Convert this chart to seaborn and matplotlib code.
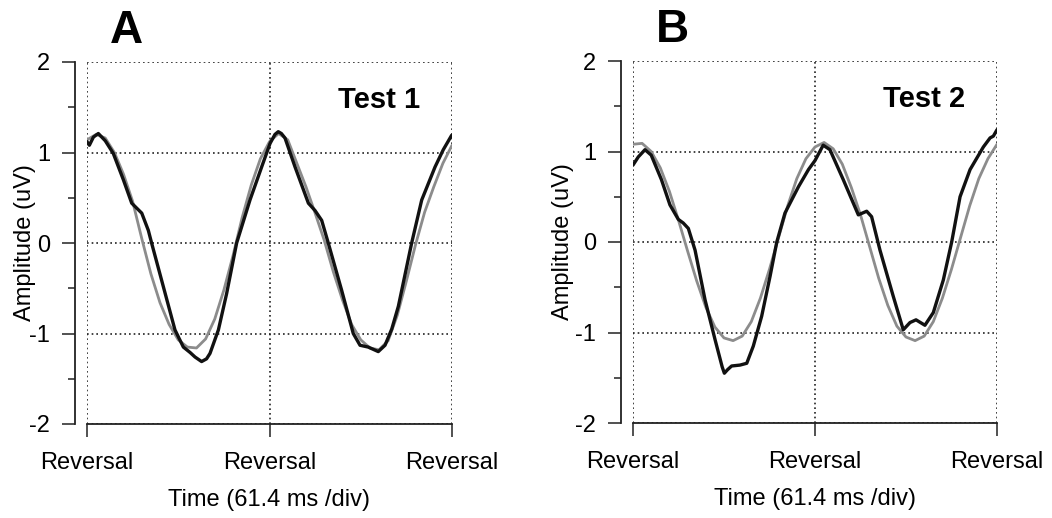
import numpy as np
import matplotlib
matplotlib.use("Agg")
import matplotlib.pyplot as plt
import seaborn as sns

# ---- data (x in divisions, y in uV) ----
# Panel A / Test 1
gray_a_x = [0.00, 0.05, 0.10, 0.15, 0.20, 0.25, 0.30, 0.35, 0.40, 0.45, 0.50,
            0.55, 0.60, 0.65, 0.70, 0.75, 0.80, 0.85, 0.90, 0.95, 1.00,
            1.05, 1.10, 1.15, 1.20, 1.25, 1.30, 1.35, 1.40, 1.45, 1.50,
            1.55, 1.60, 1.65, 1.70, 1.75, 1.80, 1.85, 1.90, 1.95, 2.00]
gray_a_y = [1.14, 1.20, 1.16, 1.00, 0.76, 0.46, 0.05, -0.34, -0.66, -0.90, -1.07,
            -1.15, -1.16, -1.06, -0.84, -0.52, -0.14, 0.28, 0.64, 0.93, 1.12,
            1.21, 1.14, 0.88, 0.62, 0.33, 0.03, -0.32, -0.63, -0.90, -1.07,
            -1.16, -1.18, -1.08, -0.80, -0.42, -0.02, 0.34, 0.62, 0.88, 1.08]

black_a_x = [0.0, 0.013, 0.035, 0.062, 0.10, 0.144, 0.199, 0.245, 0.265, 0.30,
             0.336, 0.354, 0.418, 0.482, 0.528, 0.565, 0.592, 0.628, 0.655, 0.674,
             0.72, 0.765, 0.82, 0.893, 0.957, 1.003, 1.03, 1.048, 1.065, 1.085,
             1.14, 1.213, 1.249, 1.286, 1.322, 1.395, 1.459, 1.496, 1.541, 1.596,
             1.633, 1.67, 1.706, 1.779, 1.834, 1.907, 1.952, 1.998]
black_a_y = [1.12, 1.08, 1.17, 1.21, 1.13, 0.99, 0.70, 0.44, 0.40, 0.33,
             0.14, 0.0, -0.48, -0.96, -1.15, -1.21, -1.26, -1.31, -1.28, -1.22,
             -0.96, -0.56, 0.0, 0.475, 0.84, 1.10, 1.20, 1.23, 1.21, 1.16,
             0.84, 0.44, 0.36, 0.25, 0.0, -0.52, -1.0, -1.13, -1.15, -1.20,
             -1.13, -0.95, -0.70, 0.0, 0.475, 0.84, 1.03, 1.19]

# Panel B / Test 2
gray_b_x = gray_a_x
gray_b_y = [1.08, 1.09, 1.00, 0.82, 0.56, 0.24, -0.10, -0.43, -0.72, -0.94, -1.06,
            -1.09, -1.04, -0.88, -0.62, -0.30, 0.05, 0.40, 0.70, 0.92, 1.05,
            1.10, 1.03, 0.86, 0.60, 0.30, -0.05, -0.40, -0.70, -0.93, -1.05,
            -1.09, -1.04, -0.88, -0.62, -0.30, 0.05, 0.40, 0.70, 0.92, 1.08]

black_b_x = [0.0, 0.029, 0.066, 0.10, 0.156, 0.203, 0.249, 0.276, 0.304, 0.341,
             0.396, 0.451, 0.490, 0.502, 0.520, 0.542, 0.588, 0.625, 0.661, 0.707,
             0.753, 0.79, 0.835, 0.909, 0.964, 1.0, 1.045, 1.082, 1.155, 1.238,
             1.284, 1.311, 1.357, 1.43, 1.485, 1.522, 1.555, 1.604, 1.65, 1.705,
             1.751, 1.797, 1.852, 1.925, 1.962, 1.98, 2.0]
black_b_y = [0.85, 0.94, 1.02, 0.96, 0.69, 0.41, 0.25, 0.21, 0.15, -0.09,
             -0.64, -1.08, -1.38, -1.45, -1.41, -1.37, -1.36, -1.34, -1.15, -0.82,
             -0.38, 0.0, 0.32, 0.61, 0.80, 0.90, 1.07, 1.02, 0.69, 0.30,
             0.34, 0.28, -0.09, -0.60, -0.97, -0.89, -0.86, -0.92, -0.78, -0.42,
             0.0, 0.50, 0.80, 1.05, 1.15, 1.17, 1.24]

x_ticks = [0, 1, 2]
x_ticklabels = ["Reversal", "Reversal", "Reversal"]
y_major = [-2, -1, 0, 1, 2]
y_minor = [-1.5, -0.5, 0.5, 1.5]
panels = [
    ("A", "Test 1", gray_a_x, gray_a_y, black_a_x, black_a_y),
    ("B", "Test 2", gray_b_x, gray_b_y, black_b_x, black_b_y),
]

sns.set_theme(style="ticks")
plt.rcParams["font.family"] = ["Liberation Sans", "DejaVu Sans"]
plt.rcParams["text.color"] = "black"
plt.rcParams["axes.labelcolor"] = "black"

W, H = 1052, 518
fig = plt.figure(figsize=(W / 100, H / 100), dpi=100)

# axes boxes in pixels: (x at 0, x at 2, y top, y bottom), ylabel x in axes coords
boxes = [(87, 452, 62, 424, -0.14), (633, 997, 61, 423, -0.163)]
letter_pos = [(126, 31), (672, 30)]

for (letter, test, gx, gy, bx, by), (x0, x1, yt, yb, ylx), (lx, ly) in zip(panels, boxes, letter_pos):
    ax = fig.add_axes([x0 / W, 1 - yb / H, (x1 - x0) / W, (yb - yt) / H])
    sns.lineplot(x=gx, y=gy, ax=ax, color="#8c8c8c", linewidth=2.0, estimator=None,
                 solid_joinstyle="round", solid_capstyle="round")
    sns.lineplot(x=bx, y=by, ax=ax, color="#111111", linewidth=2.4, estimator=None,
                 solid_joinstyle="round", solid_capstyle="round")
    ax.set_xlim(0, 2)
    ax.set_ylim(-2, 2)
    ax.set_xticks(x_ticks)
    ax.set_xticklabels(x_ticklabels)
    ax.set_yticks(y_major)
    ax.set_yticklabels([str(v) for v in y_major])
    ax.set_yticks(y_minor, minor=True)
    ax.tick_params(axis="y", which="major", length=9.5, width=1.1, pad=8,
                   color="#222222", labelcolor="black", labelsize=17)
    ax.tick_params(axis="y", which="minor", length=5, width=1.1, color="#222222")
    ax.tick_params(axis="x", which="major", length=9, width=1.1, pad=11,
                   color="#222222", labelcolor="black", labelsize=17)
    ax.grid(True, which="major", linestyle=(0, (1, 1.8)), color="#222222", linewidth=1.2)
    for gl in ax.get_xgridlines() + ax.get_ygridlines():
        gl.set_clip_on(False)
    ax.set_xlabel("Time (61.4 ms /div)", fontsize=17)
    ax.set_ylabel("Amplitude (uV)", fontsize=17)
    ax.xaxis.set_label_coords(0.5, -0.18)
    ax.yaxis.set_label_coords(ylx, 0.5)
    sns.despine(ax=ax, offset={"left": 9})
    for s in ("left", "bottom"):
        ax.spines[s].set_linewidth(1.3)
        ax.spines[s].set_color("#222222")
    ax.text(1.6, 1.58, test, fontsize=21, fontweight="bold", ha="center", va="center")
    fig.text(lx / W, 1 - ly / H, letter, fontsize=33, fontweight="bold",
             ha="center", va="center")

fig.savefig("out.png", dpi=100)
